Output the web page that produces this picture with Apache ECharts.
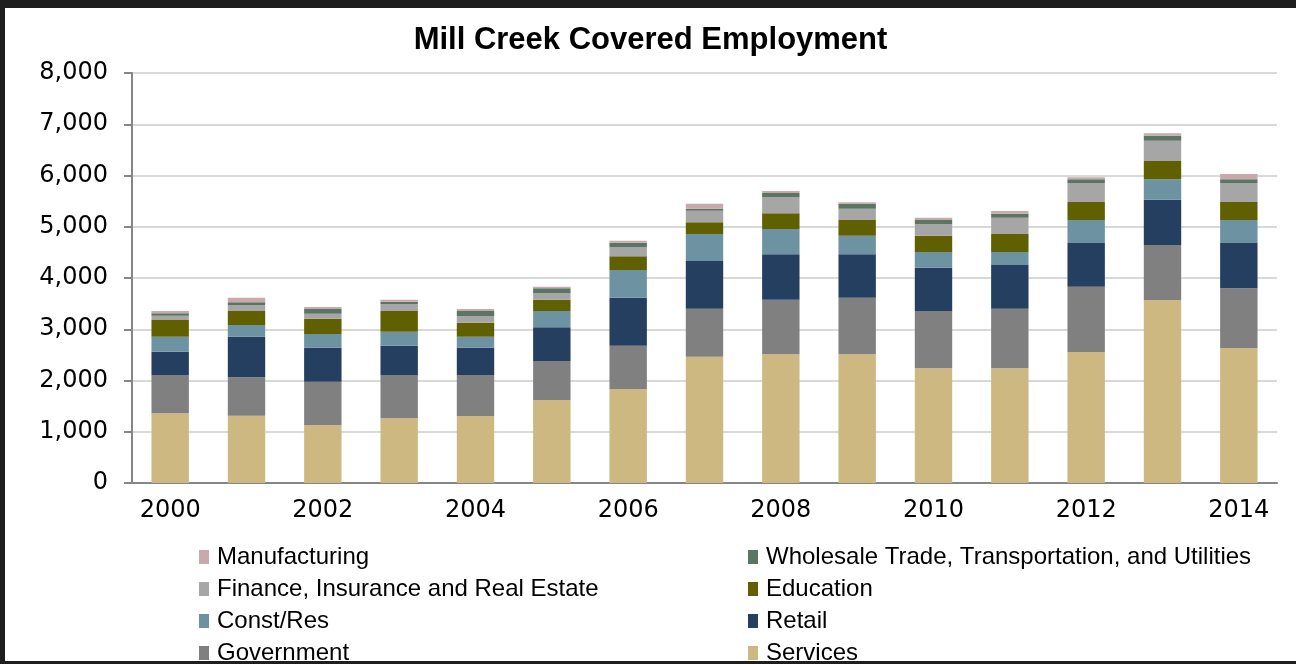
<!DOCTYPE html>
<html>
<head>
<meta charset="utf-8">
<script src="https://cdn.jsdelivr.net/npm/echarts@6/dist/echarts.min.js"></script>
<style>
  html, body { margin: 0; padding: 0; background: #1e1e1e; }
  #chart { position: absolute; left: 5px; top: 8px; width: 1291px; height: 653px; background: #fff; }
</style>
</head>
<body>
<div id="chart"></div>
<script>
    var years = ['2000', '2001', '2002', '2003', '2004', '2005', '2006', '2007',
                 '2008', '2009', '2010', '2011', '2012', '2013', '2014'];

    // stacked bottom -> top
    var services      = [1360, 1314, 1132, 1262, 1307, 1620, 1834, 2465, 2511, 2511, 2237, 2237, 2556, 3571, 2634];
    var government    = [ 747,  748,  845,  845,  800,  760,  846,  937, 1066, 1105, 1119, 1165, 1275, 1073, 1164];
    var retail        = [ 455,  793,  663,  573,  533,  658,  936,  930,  885,  846,  845,  852,  852,  884,  885];
    var constRes      = [ 293,  228,  267,  272,  215,  318,  540,  527,  494,  364,  306,  253,  449,  397,  449];
    var education     = [ 325,  273,  299,  404,  273,  221,  267,  227,  306,  306,  319,  352,  351,  358,  351];
    var finance       = [  85,  117,   98,  130,  130,  124,  176,  228,  318,  221,  221,  318,  371,  397,  371];
    var wholesale     = [  46,   53,   91,   52,   98,   97,   90,   39,   79,   97,   85,   78,   71,   97,   71];
    var manufacturing = [  45,   90,   39,   39,   39,   33,   39,   97,   39,   27,   45,   52,   39,   46,  104];

    var yTicks = [0, 1000, 2000, 3000, 4000, 5000, 6000, 7000, 8000];

    var seriesDefs = [
        { name: 'Services', data: services, color: '#CDB882' },
        { name: 'Government', data: government, color: '#808080' },
        { name: 'Retail', data: retail, color: '#243F60' },
        { name: 'Const/Res', data: constRes, color: '#6D92A2' },
        { name: 'Education', data: education, color: '#606000' },
        { name: 'Finance, Insurance and Real Estate', data: finance, color: '#A6A6A6' },
        { name: 'Wholesale Trade, Transportation, and Utilities', data: wholesale, color: '#5A7564' },
        { name: 'Manufacturing', data: manufacturing, color: '#C9A8AE' }
    ];

    var axisFont = 'DejaVu Sans';
    var chart = echarts.init(document.getElementById('chart'));

    var legendBase = {
        orient: 'vertical',
        top: 532,
        height: 200,
        itemWidth: 10,
        itemHeight: 14,
        itemGap: 8,
        icon: 'rect',
        selectedMode: false,
        textStyle: { fontFamily: 'Liberation Sans', fontSize: 24, color: '#000', lineHeight: 24, padding: [0, 0, 0, 3] }
    };

    var option = {
        animation: false,
        title: {
            text: 'Mill Creek Covered Employment',
            left: 'center',
            top: 12,
            textStyle: { fontFamily: 'Liberation Sans', fontWeight: 'bold', fontSize: 31, color: '#000' }
        },
        legend: [
            Object.assign({}, legendBase, {
                left: 189,
                data: ['Manufacturing', 'Finance, Insurance and Real Estate', 'Const/Res', 'Government']
            }),
            Object.assign({}, legendBase, {
                left: 738,
                data: ['Wholesale Trade, Transportation, and Utilities', 'Education', 'Retail', 'Services']
            })
        ],
        grid: { left: 127, right: 19, top: 65, bottom: 178 },
        xAxis: {
            type: 'category',
            data: years,
            axisLine: { lineStyle: { color: '#868686', width: 2 } },
            axisTick: { interval: 0, length: 7, lineStyle: { color: '#868686', width: 2 } },
            axisLabel: { interval: 1, margin: 16, fontFamily: axisFont, fontSize: 24, color: '#000' }
        },
        yAxis: {
            type: 'value',
            min: yTicks[0],
            max: yTicks[yTicks.length - 1],
            interval: 1000,
            axisLine: { show: true, lineStyle: { color: '#868686', width: 2 } },
            axisTick: { show: true, length: 8, lineStyle: { color: '#868686', width: 2 } },
            axisLabel: {
                margin: 24, fontFamily: axisFont, fontSize: 24, color: '#000',
                formatter: function (v) { return v.toLocaleString('en-US'); }
            },
            splitLine: { lineStyle: { color: '#d9d9d9', width: 2 } }
        },
        series: seriesDefs.map(function (s) {
            return {
                name: s.name,
                type: 'bar',
                stack: 'total',
                barWidth: '49%',
                data: s.data,
                itemStyle: { color: s.color }
            };
        })
    };

    chart.setOption(option);
</script>
</body>
</html>
